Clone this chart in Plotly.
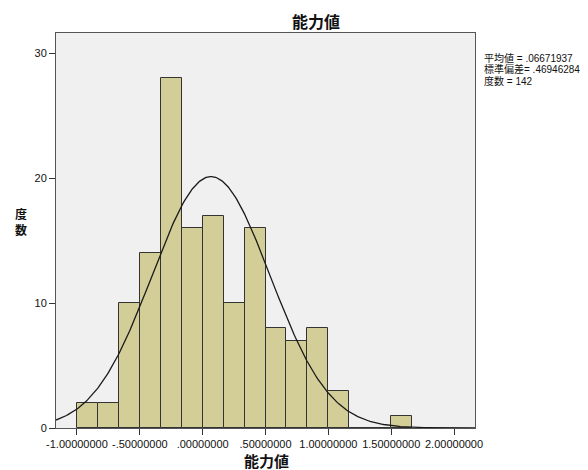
import numpy as np
import plotly.graph_objects as go

# ---- data ----
bin_start = -1.0
bin_width = 1.0 / 6.0
counts = [2, 2, 10, 14, 28, 16, 17, 10, 16, 8, 7, 8, 3, 0, 0, 1]
mean_val = 0.06671937
sd_val = 0.46946284
n_total = 142

x_tickvals = [-1.0, -0.5, 0.0, 0.5, 1.0, 1.5, 2.0]
x_ticktext = ["-1.00000000", "-.50000000", ".00000000", ".50000000",
              "1.00000000", "1.50000000", "2.00000000"]
y_tickvals = [0, 10, 20, 30]

title_text = "能力値"
x_title = "能力値"
y_title_chars = ["度", "数"]
stats_lines = ["平均値 = .06671937", "標準偏差= .46946284", "度数 = 142"]

# ---- derived ----
centers = [bin_start + bin_width * (i + 0.5) for i in range(len(counts))]
x_range = [-1.0 - bin_width, 2.0 + bin_width]
xs = np.linspace(x_range[0], x_range[1], 400)
ys = n_total * bin_width / (sd_val * np.sqrt(2 * np.pi)) * np.exp(-0.5 * ((xs - mean_val) / sd_val) ** 2)

LAT = "Liberation Sans, Arial, Noto Sans CJK JP, sans-serif"
CJK = "Noto Sans CJK JP, Liberation Sans, sans-serif"

PL, PT, PW, PH = 56, 33, 419, 395  # plot area in pixels


def px_x(x):
    return (x - PL) / PW


def px_y(y):
    return (PT + PH - y) / PH


fig = go.Figure()
fig.add_trace(go.Bar(
    x=centers, y=counts, width=bin_width,
    marker=dict(color="#D3CE97", line=dict(color="#333333", width=1)),
    hoverinfo="x+y", showlegend=False,
))
fig.add_trace(go.Scatter(
    x=xs, y=ys, mode="lines",
    line=dict(color="#1a1a1a", width=1.3),
    showlegend=False, hoverinfo="skip",
))

fig.update_layout(
    width=588, height=470, autosize=False,
    margin=dict(l=PL, r=588 - PL - PW, t=PT, b=470 - PT - PH, pad=0),
    paper_bgcolor="white", plot_bgcolor="#F0F0F0",
    bargap=0,
    font=dict(family=LAT, size=11, color="#111111"),
    xaxis=dict(
        range=x_range, tickvals=x_tickvals, ticktext=x_ticktext,
        ticks="outside", ticklen=6, tickcolor="#333333", tickwidth=1,
        showgrid=False, zeroline=False,
        showline=True, mirror=True, linecolor="#555555", linewidth=1,
        tickfont=dict(family=LAT, size=11, color="#111111"),
    ),
    yaxis=dict(
        range=[0, 31.6], tickvals=y_tickvals,
        ticks="outside", ticklen=6, tickcolor="#333333", tickwidth=1,
        showgrid=False, zeroline=False,
        showline=True, mirror=True, linecolor="#555555", linewidth=1,
        tickfont=dict(family=LAT, size=11, color="#111111"),
    ),
)

annotations = []
annotations.append(dict(text="<b>" + title_text + "</b>", xref="paper", yref="paper",
                        x=px_x(316), y=px_y(20.7), xanchor="center", yanchor="middle",
                        showarrow=False, font=dict(family=CJK, size=16, color="#111111")))
annotations.append(dict(text="<b>" + x_title + "</b>", xref="paper", yref="paper",
                        x=px_x(266), y=px_y(460), xanchor="center", yanchor="middle",
                        showarrow=False, font=dict(family=CJK, size=15, color="#111111")))
annotations.append(dict(text="<br>".join("<b>" + ch + "</b>" for ch in y_title_chars),
                        xref="paper", yref="paper",
                        x=px_x(20.5), y=px_y(221),
                        xanchor="center", yanchor="middle", align="center",
                        showarrow=False, font=dict(family=CJK, size=12, color="#111111")))
for i, line in enumerate(stats_lines):
    annotations.append(dict(text=line, xref="paper", yref="paper",
                            x=px_x(482), y=px_y(58 + 11.3 * i),
                            xanchor="left", yanchor="middle", align="left",
                            showarrow=False, font=dict(family=LAT, size=10, color="#111111")))
fig.update_layout(annotations=annotations)

fig.write_html("out.html", post_script="document.body.style.margin='0';",
               config={"displayModeBar": False})
